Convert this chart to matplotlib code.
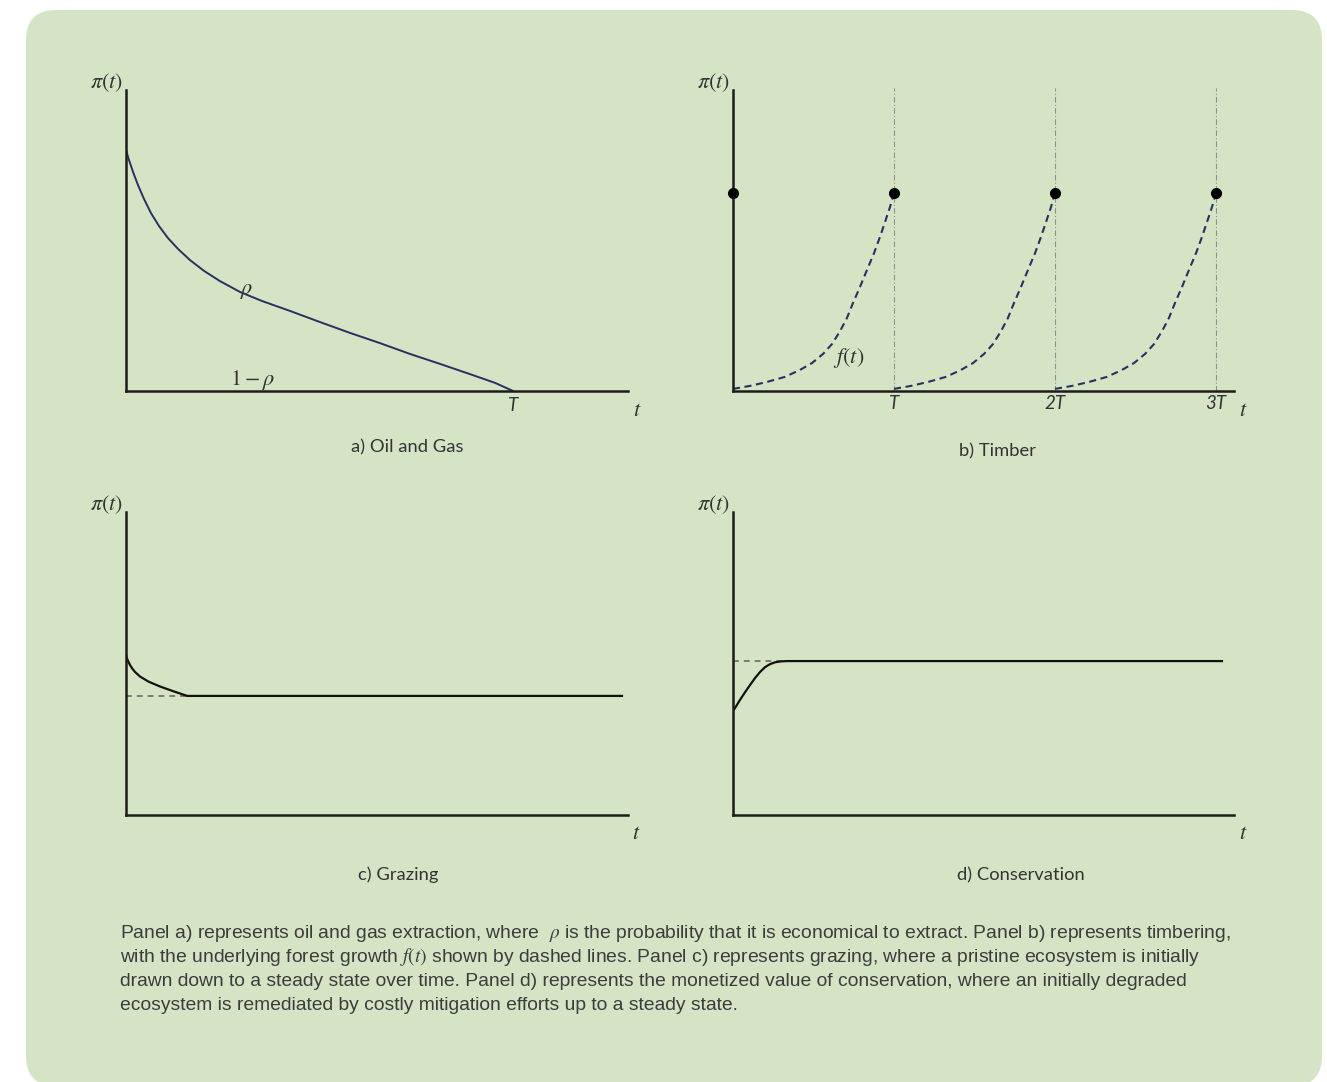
import matplotlib
matplotlib.use("Agg")
import matplotlib.pyplot as plt
from matplotlib.patches import FancyBboxPatch

plt.rcParams["mathtext.fontset"] = "stix"

W, H = 1327, 1082

# a) oil and gas: expected profit, hits zero at T = 1
oil_t = [0, 0.0078, 0.0181, 0.031, 0.0465, 0.0646, 0.0853, 0.1085, 0.1344, 0.1654,
         0.2016, 0.2429, 0.2946, 0.3514, 0.4238, 0.5013, 0.5788, 0.6563, 0.7339,
         0.8114, 0.8889, 0.9535, 1.0]
oil_pi = [0.801, 0.767, 0.728, 0.684, 0.638, 0.591, 0.548, 0.508, 0.472, 0.435,
          0.399, 0.365, 0.329, 0.299, 0.266, 0.229, 0.193, 0.159, 0.123,
          0.090, 0.056, 0.027, 0.0]

# b) timber: forest growth over one rotation (t in units of T)
grow_t = [0, 0.106, 0.211, 0.323, 0.416, 0.491, 0.559, 0.615, 0.665, 0.708, 0.745,
          0.789, 0.832, 0.876, 0.913, 0.944, 0.975, 1.0]
grow_f = [0.007, 0.017, 0.030, 0.047, 0.070, 0.093, 0.123, 0.156, 0.199, 0.243, 0.292,
          0.346, 0.402, 0.458, 0.512, 0.561, 0.611, 0.658]
harvests = [0, 1, 2, 3]
harvest_value = 0.658
rotation_labels = ["T", "2T", "3T"]

# c) grazing
graze_t = [0, 0.003, 0.008, 0.013, 0.018, 0.028, 0.045, 0.068, 0.095, 0.122, 0.988]
graze_pi = [0.528, 0.512, 0.495, 0.482, 0.472, 0.457, 0.440, 0.424, 0.408, 0.393, 0.393]
graze_ss = 0.393

# d) conservation
cons_t = [0, 0.007, 0.014, 0.024, 0.034, 0.044, 0.054, 0.064, 0.074, 0.084, 0.096, 0.108, 0.976]
cons_pi = [0.343, 0.361, 0.380, 0.405, 0.429, 0.452, 0.472, 0.488, 0.498, 0.504, 0.507, 0.508, 0.508]
cons_ss = 0.508

caption_lines = [
    r"Panel a) represents oil and gas extraction, where  $\rho$ is the probability that it is economical to extract. Panel b) represents timbering,",
    r"with the underlying forest growth $f(t)$ shown by dashed lines. Panel c) represents grazing, where a pristine ecosystem is initially",
    "drawn down to a steady state over time. Panel d) represents the monetized value of conservation, where an initially degraded",
    "ecosystem is remediated by costly mitigation efforts up to a steady state.",
]

BG = "#d6e4c6"
AXC = "#1c1c1c"
NAVY = "#25325f"
TXT = "#333333"
LAB = "Lato"
MATH = 16

fig = plt.figure(figsize=(W / 100, H / 100), dpi=100)
fig.patch.set_facecolor("white")
fig.patches.append(FancyBboxPatch((0.26, -0.04), 12.96, 10.76,
                                  boxstyle="round,pad=0,rounding_size=0.3",
                                  transform=fig.dpi_scale_trans, facecolor=BG,
                                  edgecolor="none", zorder=-10))


def panel(l, t, r, b):
    ax = fig.add_axes([l / W, 1 - b / H, (r - l) / W, (b - t) / H])
    ax.set_zorder(2)
    ax.set_facecolor("none")
    for s in ["top", "right"]:
        ax.spines[s].set_visible(False)
    for s in ["left", "bottom"]:
        ax.spines[s].set_linewidth(1.8)
        ax.spines[s].set_color(AXC)
    ax.set_xticks([])
    ax.set_yticks([])
    ax.set_ylim(0, 1)
    ax.text(-0.006, 1.023, r"$\pi(t)$", transform=ax.transAxes, ha="right",
            va="center", fontsize=MATH, color=TXT)
    return ax


def caption(ax, x, y, s):
    ax.text(x, y, s, transform=ax.transAxes, ha="center", va="center",
            fontsize=13.2, family=LAB, color=TXT)


def tlabel(ax, x, y, s):
    ax.text(x, y, s, ha="center", va="center", fontsize=13.5, family=LAB,
            style="italic", color=TXT)


# a) Oil and Gas
ax = panel(126, 90, 628, 391)
ax.set_xlim(0, 1.297)
ax.plot(oil_t, oil_pi, color=NAVY, lw=1.4)
ax.text(0.313, 0.332, r"$\rho$", ha="center", va="center", fontsize=MATH, color=TXT)
ax.text(0.328, 0.037, r"$1-\rho$", ha="center", va="center", fontsize=MATH, color=TXT)
tlabel(ax, 1.0, -0.047, "T")
ax.text(1.32, -0.063, r"$t$", ha="center", va="center", fontsize=MATH, color=TXT)
caption(ax, 0.56, -0.186, "a) Oil and Gas")

# b) Timber
ax = panel(733, 90, 1234, 391)
ax.set_xlim(0, 501 / 161)
for k in harvests[1:]:
    ax.plot([k, k], [0, 1.007], color="#8c9388", lw=0.8,
            linestyle=(0, (5, 2, 1, 2)), clip_on=False)
for k in harvests[:-1]:
    ax.plot([k + g for g in grow_t], grow_f, color=NAVY, lw=1.5,
            linestyle=(0, (3.4, 2.2)), clip_on=False)
ax.plot(harvests, [harvest_value] * len(harvests), "o", color="black",
        ms=7, clip_on=False, zorder=5)
for k, lab in zip(harvests[1:], rotation_labels):
    tlabel(ax, k, -0.043, lab)
ax.text(3.17, -0.063, r"$t$", ha="center", va="center", fontsize=MATH, color=TXT)
ax.text(0.72, 0.11, r"$f(t)$", ha="center", va="center", fontsize=MATH, color=TXT)
caption(ax, 0.527, -0.199, "b) Timber")

# c) Grazing
ax = panel(126, 512, 628, 815)
ax.set_xlim(0, 1)
ax.plot([0, graze_t[-1]], [graze_ss, graze_ss], color="#6a6a6a", lw=1.2,
        linestyle=(0, (3.5, 3)))
ax.plot(graze_t, graze_pi, color="#111111", lw=1.6)
ax.text(1.016, -0.059, r"$t$", transform=ax.transAxes, ha="center", va="center",
        fontsize=MATH, color=TXT)
caption(ax, 0.542, -0.198, "c) Grazing")

# d) Conservation
ax = panel(733, 512, 1234, 815)
ax.set_xlim(0, 1)
ax.plot([0, cons_t[-1]], [cons_ss, cons_ss], color="#6a6a6a", lw=1.2,
        linestyle=(0, (3.5, 3)))
ax.plot(cons_t, cons_pi, color="#111111", lw=1.6)
ax.text(1.018, -0.059, r"$t$", transform=ax.transAxes, ha="center", va="center",
        fontsize=MATH, color=TXT)
caption(ax, 0.575, -0.198, "d) Conservation")

for i, line in enumerate(caption_lines):
    fig.text(120 / W, 1 - (933 + 24 * i) / H, line, ha="left", va="center",
             fontsize=13.9, family="Liberation Sans", color="#3c3c3c")

fig.savefig("out.png", dpi=100, facecolor="white")
